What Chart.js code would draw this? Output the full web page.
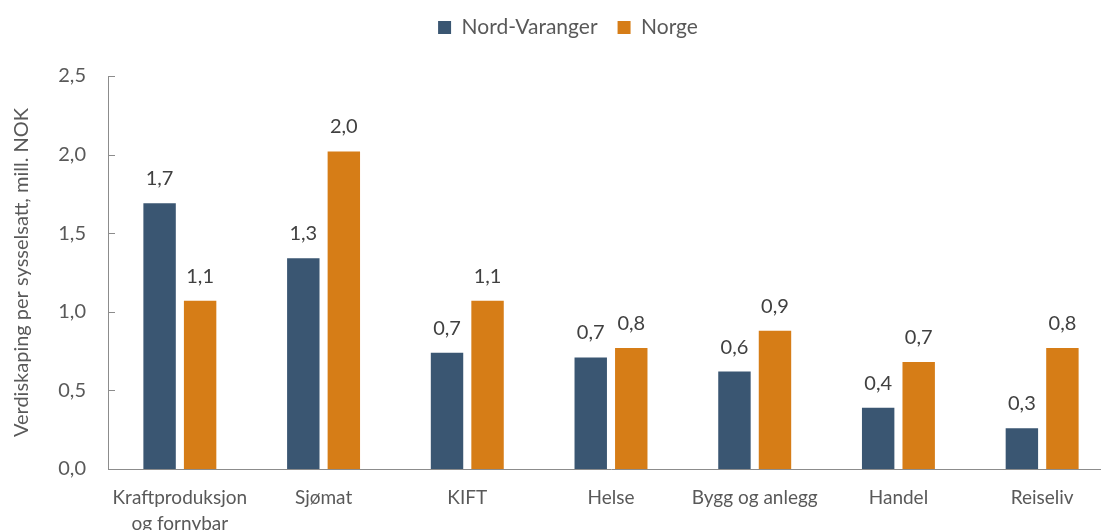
<!DOCTYPE html>
<html>
<head>
<meta charset="utf-8">
<script src="https://cdn.jsdelivr.net/npm/chart.js@4"></script>
<style>
  html, body { margin: 0; padding: 0; background: #fff; overflow: hidden; }
  #wrap { position: absolute; left: 0; top: 0; width: 1114px; height: 540px; }
</style>
</head>
<body>
<div id="wrap"><canvas id="myChart"></canvas></div>
<script>
var categories = [['Kraftproduksjon', 'og fornybar'], 'Sjømat', 'KIFT', 'Helse', 'Bygg og anlegg', 'Handel', 'Reiseliv'];
var nordVaranger = [1.69, 1.34, 0.74, 0.71, 0.62, 0.39, 0.26];
var norge = [1.07, 2.02, 1.07, 0.77, 0.88, 0.68, 0.77];
var yTicks = [0, 0.5, 1.0, 1.5, 2.0, 2.5];

var textGrey = '#595959';
var axisGrey = '#8c8c8c';

function fmt(v) {
    return v.toFixed(1).replace('.', ',');
}

// verdi over hver soyle
var valueLabels = {
    id: 'valueLabels',
    afterDatasetsDraw: function(chart) {
        var ctx = chart.ctx;
        ctx.save();
        ctx.font = '20px Lato';
        ctx.fillStyle = '#404040';
        ctx.textAlign = 'center';
        ctx.textBaseline = 'alphabetic';
        chart.data.datasets.forEach(function(ds, i) {
            var meta = chart.getDatasetMeta(i);
            meta.data.forEach(function(bar, j) {
                ctx.fillText(fmt(ds.data[j]), bar.x, bar.y - 18);
            });
        });
        ctx.restore();
    }
};

// tickmerker pa innsiden av y-aksen
var innerTicks = {
    id: 'innerTicks',
    afterDraw: function(chart) {
        var ctx = chart.ctx;
        var y = chart.scales.y;
        var left = chart.chartArea.left;
        ctx.save();
        ctx.strokeStyle = axisGrey;
        ctx.lineWidth = 1;
        yTicks.forEach(function(v) {
            var py = Math.round(y.getPixelForValue(v)) + 0.5;
            ctx.beginPath();
            ctx.moveTo(left, py);
            ctx.lineTo(left + 7, py);
            ctx.stroke();
        });
        ctx.restore();
    }
};

// fast hoyde pa legenden, og flytt den litt
var legendFix = {
    id: 'legendFix',
    beforeLayout: function(chart) {
        var lg = chart.legend;
        if (lg && !lg._patched) {
            var fit = lg.fit;
            lg.fit = function() {
                fit.call(this);
                this.height = 76;
            };
            lg._patched = true;
        }
    },
    afterLayout: function(chart) {
        chart.legend.left += 11;
        chart.legend.right += 11;
        chart.legend.top -= 3;
    }
};

var ctx = document.getElementById('myChart').getContext('2d');
var myChart = new Chart(ctx, {
    type: 'bar',
    data: {
        labels: categories,
        datasets: [{
            label: 'Nord-Varanger',
            data: nordVaranger,
            backgroundColor: '#3a5672',
            categoryPercentage: 0.564,
            barPercentage: 0.8
        }, {
            label: 'Norge',
            data: norge,
            backgroundColor: '#d67d17',
            categoryPercentage: 0.564,
            barPercentage: 0.8
        }]
    },
    plugins: [valueLabels, innerTicks, legendFix],
    options: {
        responsive: true,
        maintainAspectRatio: false,
        animation: false,
        layout: { padding: 0 },
        plugins: {
            legend: {
                position: 'top',
                labels: {
                    color: textGrey,
                    font: { family: 'Lato', size: 21 },
                    boxWidth: 13,
                    boxHeight: 13,
                    padding: 20
                }
            },
            tooltip: { enabled: false }
        },
        scales: {
            x: {
                grid: { display: false, drawTicks: false },
                border: { display: true, color: axisGrey, width: 1 },
                afterFit: function(scale) { scale.height = 71; },
                ticks: {
                    color: textGrey,
                    font: { family: 'Lato', size: 19, lineHeight: 1.38 },
                    padding: 16,
                    maxRotation: 0,
                    autoSkip: false
                }
            },
            y: {
                min: 0,
                max: 2.5,
                grid: { display: false, drawTicks: false },
                border: { display: true, color: axisGrey, width: 1 },
                afterFit: function(scale) { scale.width = 108; },
                afterBuildTicks: function(scale) {
                    scale.ticks = yTicks.map(function(v) { return { value: v }; });
                },
                ticks: {
                    color: textGrey,
                    font: { family: 'Lato', size: 20 },
                    padding: 22,
                    callback: function(v) { return fmt(v); }
                },
                title: {
                    display: true,
                    text: 'Verdiskaping per sysselsatt, mill. NOK',
                    color: textGrey,
                    font: { family: 'Lato', size: 20, lineHeight: 1.2 },
                    padding: { top: 10, bottom: 0 }
                }
            }
        }
    }
});
</script>
</body>
</html>
